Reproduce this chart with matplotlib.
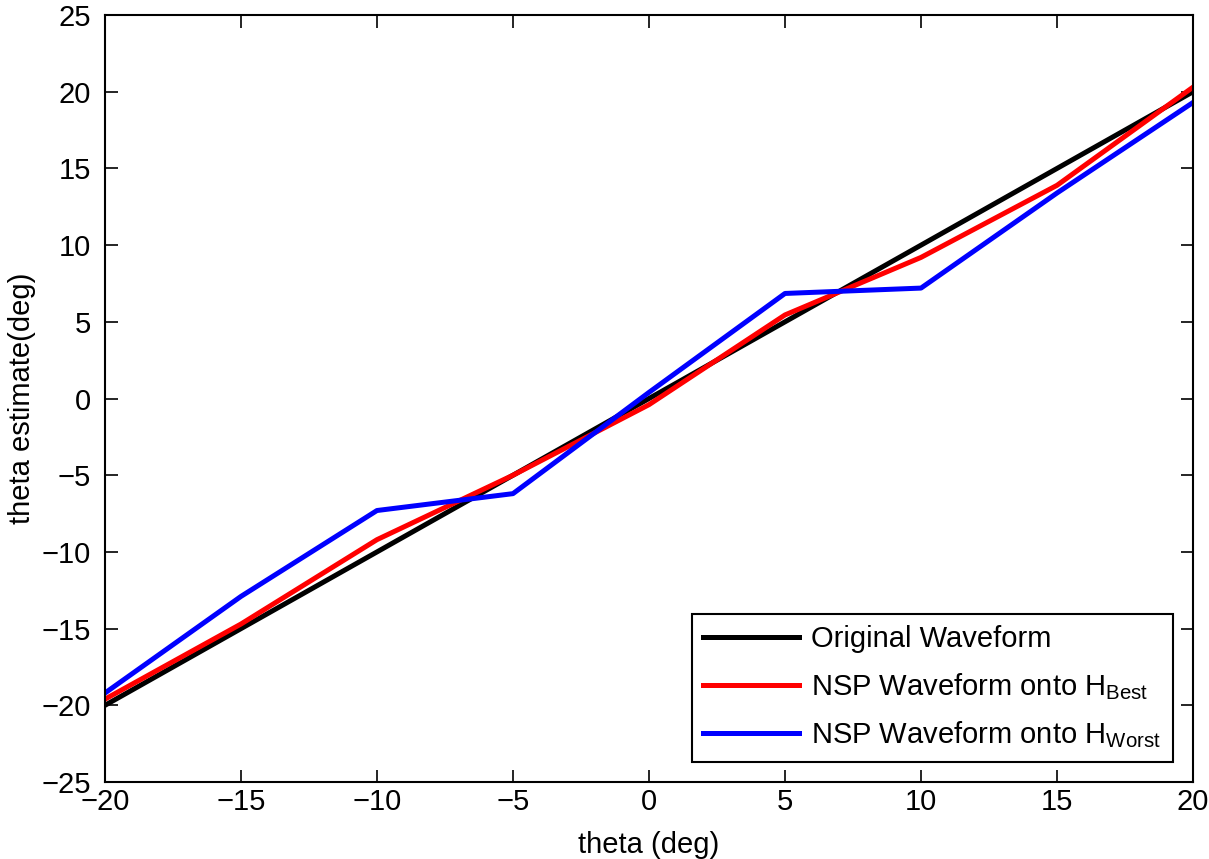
import matplotlib
matplotlib.use("Agg")
import matplotlib.pyplot as plt

plt.rcParams["font.family"] = ["Liberation Sans", "DejaVu Sans"]
plt.rcParams["mathtext.fontset"] = "custom"
plt.rcParams["mathtext.rm"] = "Liberation Sans"
plt.rcParams["mathtext.it"] = "Liberation Sans:italic"

theta = [-20, -15, -10, -5, 0, 5, 10, 15, 20]
original = [-20, -15, -10, -5, 0, 5, 10, 15, 20]
nsp_best = [-19.6, -14.7, -9.2, -5.0, -0.4, 5.45, 9.2, 13.9, 20.3]
nsp_worst = [-19.2, -12.9, -7.3, -6.2, 0.4, 6.85, 7.2, 13.4, 19.3]

fig = plt.figure(figsize=(12.09, 8.59), dpi=100)
ax = fig.add_axes([0.0868, 0.0896, 0.9, 0.8929])

ax.plot(theta, original, color="black", lw=3.6, label="Original Waveform")
ax.plot(theta, nsp_best, color="red", lw=3.6,
        label=r"NSP Waveform onto H$_{\mathrm{Best}}$")
ax.plot(theta, nsp_worst, color="blue", lw=3.6,
        label=r"NSP Waveform onto H$_{\mathrm{Worst}}$")

ax.set_xlim(-20, 20)
ax.set_ylim(-25, 25)
ax.set_xticks(range(-20, 21, 5))
ax.set_yticks(range(-25, 26, 5))
ax.set_xticklabels([str(v).replace("-", "\u2212") for v in range(-20, 21, 5)])
ax.set_yticklabels([str(v).replace("-", "\u2212") for v in range(-25, 26, 5)])
ax.tick_params(direction="in", labelsize=21, length=9, width=1.2,
               top=True, right=True)
ax.tick_params(axis="x", pad=4)
ax.tick_params(axis="y", pad=10)
for s in ax.spines.values():
    s.set_linewidth(1.5)

ax.set_xlabel("theta (deg)", fontsize=21, labelpad=11)
ax.set_ylabel("theta estimate(deg)", fontsize=21, labelpad=4)

leg = ax.legend(loc="lower right", fontsize=21, fancybox=False,
                edgecolor="black", framealpha=1, handlelength=3.3,
                handletextpad=0.4, borderaxespad=0.7, labelspacing=0.6,
                borderpad=0.4)
leg.get_frame().set_linewidth(1.5)

fig.savefig("out.png", dpi=100)
